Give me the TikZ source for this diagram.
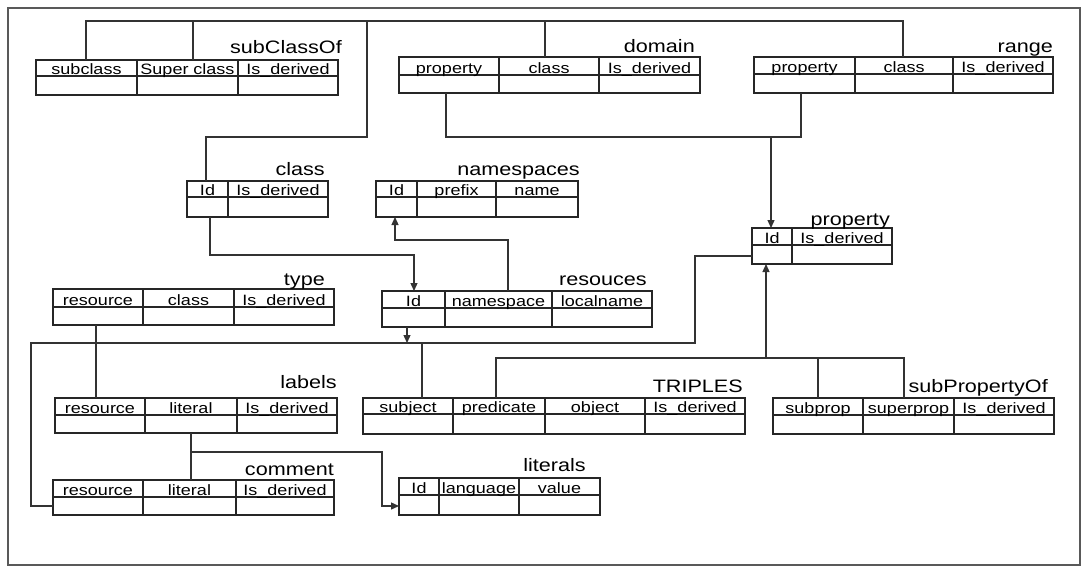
\documentclass[tikz,border=0pt]{standalone}
\usepackage{fontspec}
\setmainfont{Liberation Sans}
\usepackage{graphicx}
\usetikzlibrary{arrows.meta}

\tikzset{
  frame/.style={draw=black!65, line width=1.5pt},
  tblline/.style={draw=black!85, line width=1.5pt},
  link/.style={draw=black!80, line width=1.3pt},
  arr/.style={link, -{Triangle[length=8pt,width=7pt]}},
  hdr/.style={anchor=base, inner sep=0pt, font=\fontsize{15}{15}\selectfont},
  ttl/.style={anchor=base east, inner sep=0pt, font=\fontsize{18}{18}\selectfont},
}
\newcommand{\wide}[1]{\scalebox{1.2}[1]{#1}}

% \dbtable{name}{top}{header line}{bottom}{left/right/header, ...}
\newcommand{\dbtable}[5]{%
  \foreach \xl/\xr/\lab [count=\ci] in {#5}{%
    \draw[tblline] (\xl,#2) rectangle (\xr,#4);
    \draw[tblline] (\xl,#3) -- (\xr,#3);
    \node[hdr] (#1-\ci) at ({(\xl+\xr)/2},#3-2) {\wide{\lab}};
  }%
}

\begin{document}
\begin{tikzpicture}[x=1pt,y=-1pt]
\useasboundingbox (0,0) rectangle (1084,568);
\draw[frame] (8,8) rectangle (1080,565);

% tables
\dbtable{sco}{60}{76}{95}{36/137/subclass,137/238/Super class,238/338/Is\_derived}
\node[ttl] (sco-t) at (342,53) {\wide{subClassOf}};

\dbtable{dom}{57}{75}{93}{399/499/property,499/599/class,599/700/Is\_derived}
\node[ttl] (dom-t) at (695,52) {\wide{domain}};

\dbtable{rng}{57}{74}{93}{754/855/property,855/953/class,953/1053/Is\_derived}
\node[ttl] (rng-t) at (1053,52) {\wide{range}};

\dbtable{cls}{181}{197}{217}{187/228/Id,228/328/Is\_derived}
\node[ttl] (cls-t) at (325,175) {\wide{class}};

\dbtable{nsp}{181}{197}{217}{376/417/Id,417/496/prefix,496/578/name}
\node[ttl] (nsp-t) at (580,175) {\wide{namespaces}};

\dbtable{res}{291}{308}{327}{382/445/Id,445/552/namespace,552/652/localname}
\node[ttl] (res-t) at (647,285) {\wide{resouces}};

\dbtable{prp}{228}{245}{264}{752/792/Id,792/892/Is\_derived}
\node[ttl] (prp-t) at (890,225) {\wide{property}};

\dbtable{typ}{289}{307}{325}{53/143/resource,143/234/class,234/334/Is\_derived}
\node[ttl] (typ-t) at (325,285) {\wide{type}};

\dbtable{lab}{398}{415}{433}{55/145/resource,145/237/literal,237/337/Is\_derived}
\node[ttl] (lab-t) at (337,388) {\wide{labels}};

\dbtable{com}{480}{497}{515}{53/143/resource,143/236/literal,236/334/Is\_derived}
\node[ttl] (com-t) at (334,475) {\wide{comment}};

\dbtable{tri}{398}{414}{434}{363/453/subject,453/545/predicate,545/645/object,645/745/Is\_derived}
\node[ttl] (tri-t) at (743,392) {\wide{TRIPLES}};

\dbtable{lit}{478}{495}{515}{399/439/Id,439/519/language,519/600/value}
\node[ttl] (lit-t) at (586,471) {\wide{literals}};

\dbtable{spo}{398}{415}{434}{773/863/subprop,863/954/superprop,954/1054/Is\_derived}
\node[ttl] (spo-t) at (1048,392) {\wide{subPropertyOf}};

% attachment points on the tables
\coordinate (sco-a) at (86,60);
\coordinate (sco-b) at (193,60);
\coordinate (dom-c) at (545,57);
\coordinate (rng-c) at (903,57);
\coordinate (cls-n) at (206,181);
\coordinate (cls-s) at (210,217);
\coordinate (dom-p) at (446,93);
\coordinate (rng-p) at (801,93);
\coordinate (prp-n) at (771,228);
\coordinate (prp-s) at (766,264);
\coordinate (prp-w) at (752,256);
\coordinate (res-n) at (414,291);
\coordinate (res-ns) at (508,291);
\coordinate (res-s) at (407,327);
\coordinate (nsp-s) at (395,217);
\coordinate (typ-s) at (96,325);
\coordinate (lab-n) at (96,398);
\coordinate (lab-l) at (191,433);
\coordinate (com-l) at (191,480);
\coordinate (com-w) at (53,506);
\coordinate (lit-w) at (399,506);
\coordinate (tri-s) at (422,398);
\coordinate (tri-p) at (496,398);
\coordinate (spo-a) at (818,398);
\coordinate (spo-b) at (904,398);

% bends
\coordinate (busL) at (86,21);
\coordinate (busR) at (903,21);
\coordinate (clsbend) at (367,137);
\coordinate (pjoin) at (801,137);
\coordinate (clsres) at (414,255);
\coordinate (nsbend) at (395,240);
\coordinate (rbusL) at (31,343);
\coordinate (rbusR) at (695,343);
\coordinate (pbusR) at (904,358);
\coordinate (litbend) at (382,452);

% class id -> subClassOf, domain, range
\draw[link] (sco-a) -- (busL) -- (busR) -- (rng-c);
\draw[link] (sco-b) -- (sco-b |- busL);
\draw[link] (dom-c) -- (dom-c |- busL);
\draw[link] (cls-n) |- (clsbend) -- (clsbend |- busL);

% domain / range property -> property id
\draw[link] (dom-p) |- (pjoin) -- (rng-p);
\draw[arr] (prp-n |- pjoin) -- (prp-n);

% class id -> resouces id
\draw[arr] (cls-s) |- (clsres) -- (res-n);

% resouces namespace -> namespaces id
\draw[arr] (res-ns) |- (nsbend) -- (nsp-s);

% resource bus
\draw[link] (com-w) -| (rbusL) -- (rbusR) |- (prp-w);
\draw[link] (typ-s) -- (lab-n);
\draw[arr] (res-s) -- (res-s |- rbusL);
\draw[link] (tri-s |- rbusL) -- (tri-s);

% predicate bus
\draw[link] (tri-p) |- (pbusR) -- (spo-b);
\draw[link] (spo-a |- pbusR) -- (spo-a);
\draw[arr] (prp-s |- pbusR) -- (prp-s);

% literal links
\draw[link] (lab-l) -- (com-l);
\draw[arr] (litbend -| lab-l) -- (litbend) |- (lit-w);
\end{tikzpicture}
\end{document}
